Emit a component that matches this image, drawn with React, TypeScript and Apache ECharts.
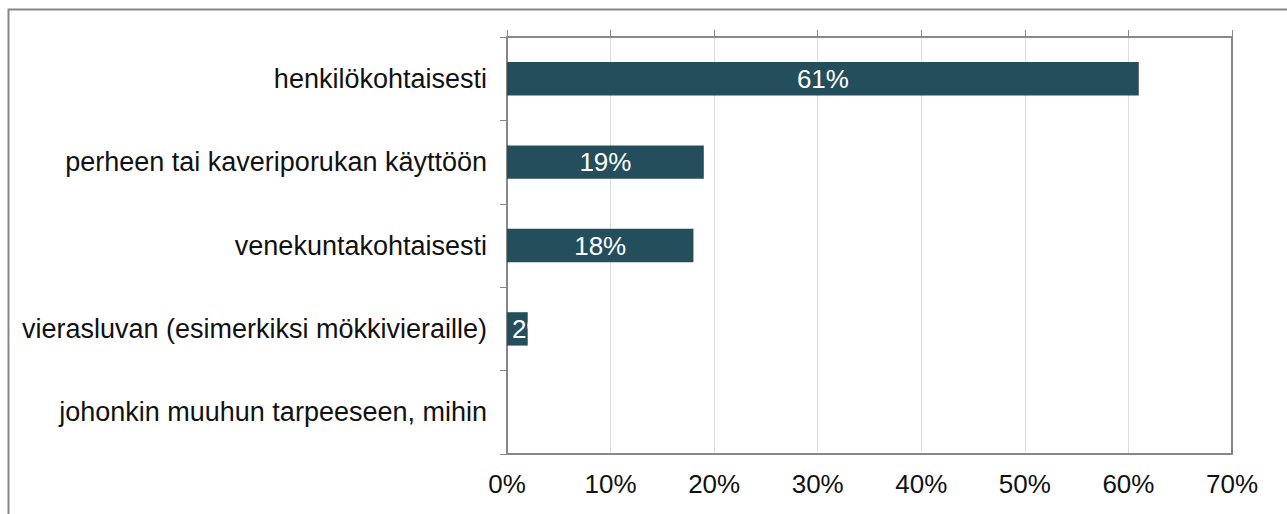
import React, { useEffect, useRef } from "react";
import * as echarts from "echarts";

const categories = [
  "henkilökohtaisesti",
  "perheen tai kaveriporukan käyttöön",
  "venekuntakohtaisesti",
  "vierasluvan (esimerkiksi mökkivieraille)",
  "johonkin muuhun tarpeeseen, mihin",
];
const values = [61, 19, 18, 2, 0];
const axisMin = 0;
const axisMax = 70;
const axisStep = 10;

const FONT = "'Liberation Sans', Arial, sans-serif";
const AXIS_COLOR = "#878787";
const BAR_COLOR = "#244e5c";

export default function App() {
  const ref = useRef<HTMLDivElement>(null);
  useEffect(() => {
    if (!ref.current) return;
    const chart = echarts.init(ref.current, null, { renderer: "svg" });
    const data = values.map((v) =>
      v > 0 && v < 5
        ? { value: v, label: { position: "insideLeft", distance: 5 } }
        : { value: v }
    );
    chart.setOption({
      animation: false,
      backgroundColor: "#ffffff",
      graphic: [
        {
          type: "rect",
          left: 6,
          top: 7,
          shape: { width: 1320, height: 540 },
          style: { fill: "none", stroke: AXIS_COLOR, lineWidth: 2 },
          silent: true,
          z: 100,
        },
      ],
      grid: { left: 507, top: 37, right: 55, bottom: 60, containLabel: false },
      xAxis: [
        {
          type: "value",
          position: "bottom",
          min: axisMin,
          max: axisMax,
          interval: axisStep,
          axisLine: { show: true, onZero: false, lineStyle: { color: AXIS_COLOR, width: 2 } },
          axisTick: { show: false },
          axisLabel: {
            formatter: (v: number) => `${v}%`,
            fontFamily: FONT,
            fontSize: 26,
            color: "#111",
            margin: 17,
          },
          splitLine: { show: true, lineStyle: { color: "#dedede", width: 1 } },
        },
        {
          type: "value",
          position: "top",
          min: axisMin,
          max: axisMax,
          interval: axisStep,
          axisLine: { show: true, onZero: false, lineStyle: { color: AXIS_COLOR, width: 2 } },
          axisTick: { show: true, inside: false, length: 7, lineStyle: { color: AXIS_COLOR, width: 1 } },
          axisLabel: { show: false },
          splitLine: { show: false },
        },
      ],
      yAxis: [
        {
          type: "category",
          position: "left",
          inverse: true,
          data: categories,
          axisLine: { show: true, onZero: false, lineStyle: { color: AXIS_COLOR, width: 2 } },
          axisTick: { show: true, inside: false, length: 7, lineStyle: { color: AXIS_COLOR, width: 1 } },
          axisLabel: {
            fontFamily: FONT,
            fontSize: 27,
            color: "#111",
            margin: 20,
          },
        },
        {
          type: "category",
          position: "right",
          inverse: true,
          data: categories,
          axisLine: { show: true, onZero: false, lineStyle: { color: AXIS_COLOR, width: 2 } },
          axisTick: { show: false },
          axisLabel: { show: false },
        },
      ],
      series: [
        {
          type: "bar",
          xAxisIndex: 0,
          yAxisIndex: 0,
          data,
          barCategoryGap: "60%",
          itemStyle: { color: BAR_COLOR },
          label: {
            show: true,
            position: "inside",
            formatter: (p: any) => (p.value > 0 ? `${p.value}%` : ""),
            fontFamily: FONT,
            fontSize: 26,
            color: "#ffffff",
          },
        },
      ],
    });
    return () => chart.dispose();
  }, []);
  return (
    <div
      ref={ref}
      style={{ position: "absolute", left: 0, top: 0, width: 1287, height: 514 }}
    />
  );
}
